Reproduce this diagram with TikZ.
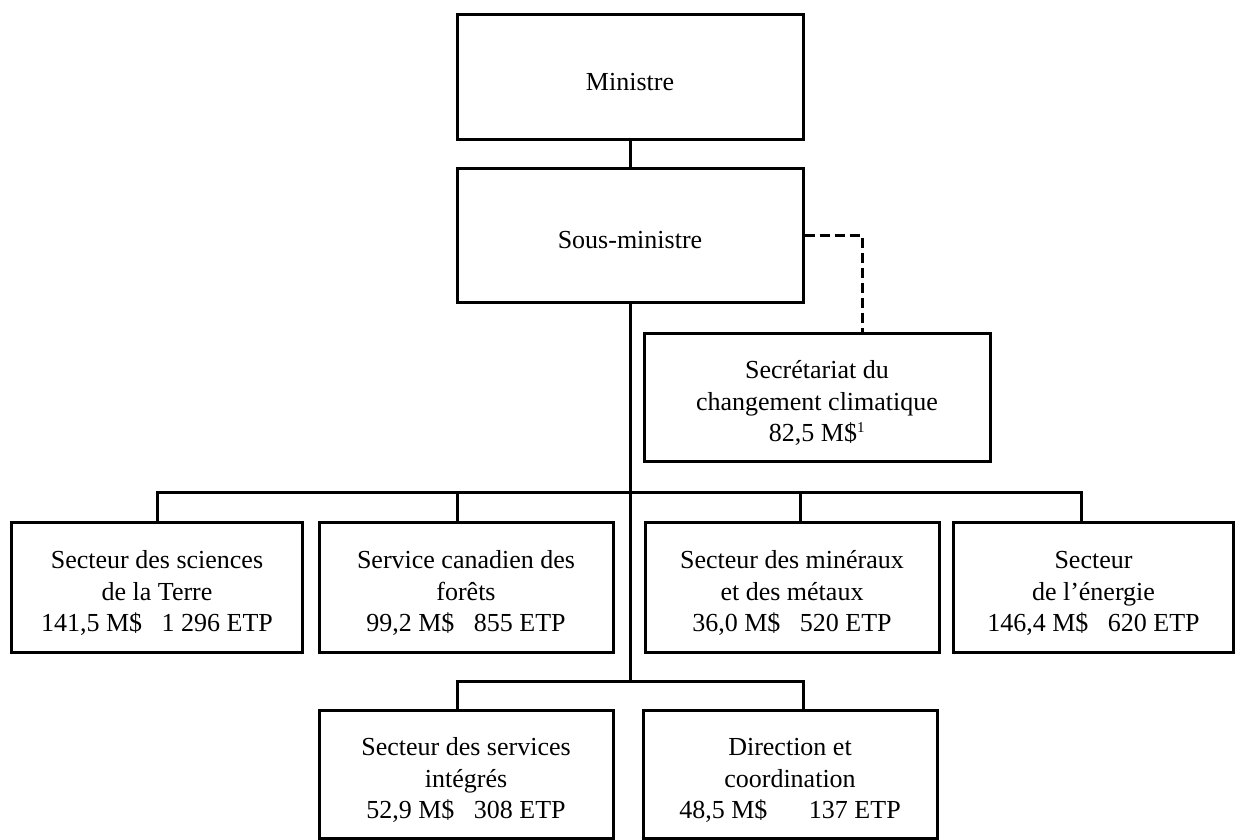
\documentclass[tikz,border=0pt]{standalone}
\usepackage{fontspec}
\setmainfont{Liberation Serif}

\newcommand{\unittext}[1]{\raisebox{-7pt}[\height][\depth]{\begin{tabular}{@{}c@{}}#1\end{tabular}}}

\begin{document}
\begin{tikzpicture}[
    x=1pt, y=-1pt,
    unit/.style={rectangle, draw, line width=3pt, inner sep=0pt,
        minimum width=294pt, minimum height=130pt, font=\fontsize{26}{31.5}\selectfont},
    link/.style={line width=3pt},
    dashlink/.style={line width=3pt, dash pattern=on 10pt off 5pt}
]
\useasboundingbox (0,0) rectangle (1235,840);

\node[unit, minimum width=346pt, minimum height=125pt] (min) at (630,77.5) {\unittext{Ministre}};
\node[unit, minimum width=346pt, minimum height=133pt] (sm) at (630,235.5) {\unittext{Sous-ministre}};
\node[unit, minimum width=346pt, minimum height=128pt] (sec) at (817,397)
    {\unittext{Secrétariat du\\changement climatique\\82,5 M\$\textsuperscript{\fontsize{15}{15}\selectfont 1}}};

\node[unit, minimum width=291pt] (earth) at (157,587)
    {\unittext{Secteur des sciences\\de la Terre\\141,5 M\$\hspace{0.75em}1 296 ETP}};
\node[unit] (forest) at (466,587)
    {\unittext{Service canadien des\\forêts\\99,2 M\$\hspace{0.75em}855 ETP}};
\node[unit] (mineral) at (792,587)
    {\unittext{Secteur des minéraux\\et des métaux\\36,0 M\$\hspace{0.75em}520 ETP}};
\node[unit, minimum width=280pt] (energy) at (1093.5,587)
    {\unittext{Secteur\\de l’énergie\\146,4 M\$\hspace{0.75em}620 ETP}};

\node[unit, minimum height=128pt] (corp) at (466,774)
    {\unittext{Secteur des services\\intégrés\\52,9 M\$\hspace{0.75em}308 ETP}};
\node[unit, minimum height=128pt] (exec) at (790,774)
    {\unittext{Direction et\\coordination\\48,5 M\$\hspace{1.6em}137 ETP}};

\coordinate (bar) at (630,492);
\coordinate (lowbar) at (630,681);

\draw[link] (min.south) -- (sm.north);
\draw[link] (sm.south) -- (lowbar);
\draw[dashlink] (sm.east) -| ([xshift=45pt]sec.north);

% first row
\draw[link] (earth.north) |- (bar) -| ([xshift=-12.5pt]energy.north);
\draw[link] ([xshift=-9pt]forest.north) -- ([xshift=-9pt]forest.north |- bar);
\draw[link] ([xshift=8pt]mineral.north) -- ([xshift=8pt]mineral.north |- bar);

% second row
\draw[link] ([xshift=-9pt]corp.north) |- (lowbar) -| ([xshift=13pt]exec.north);
\end{tikzpicture}
\end{document}
